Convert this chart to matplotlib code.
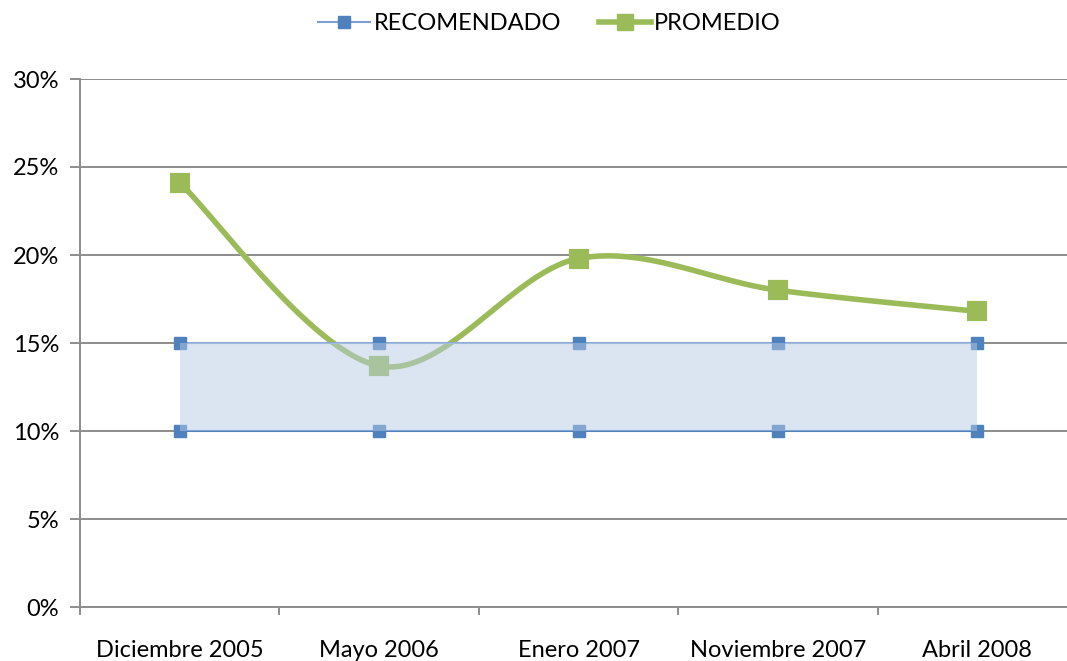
import matplotlib
matplotlib.use("Agg")
import matplotlib.pyplot as plt
import numpy as np
from matplotlib.ticker import FuncFormatter, FixedLocator

categories = ["Diciembre 2005", "Mayo 2006", "Enero 2007", "Noviembre 2007", "Abril 2008"]
recomendado_min = [10, 10, 10, 10, 10]
recomendado_max = [15, 15, 15, 15, 15]
promedio = [24.1, 13.7, 19.8, 18.0, 16.8]

plt.rcParams['font.family'] = ['Lato', 'DejaVu Sans']


def smooth_curve(x, y, n=60):
    # Excel-like smoothed line: cubic bezier with catmull-rom control points
    x = np.asarray(x, float)
    y = np.asarray(y, float)
    px, py = [], []
    for i in range(len(x) - 1):
        x0, y0 = (x[i - 1], y[i - 1]) if i > 0 else (x[i], y[i])
        x3, y3 = (x[i + 2], y[i + 2]) if i + 2 < len(x) else (x[i + 1], y[i + 1])
        c1x = x[i] + (x[i + 1] - x0) / 6
        c1y = y[i] + (y[i + 1] - y0) / 6
        c2x = x[i + 1] - (x3 - x[i]) / 6
        c2y = y[i + 1] - (y3 - y[i]) / 6
        t = np.linspace(0, 1, n)
        bx = (1 - t)**3 * x[i] + 3 * (1 - t)**2 * t * c1x + 3 * (1 - t) * t**2 * c2x + t**3 * x[i + 1]
        by = (1 - t)**3 * y[i] + 3 * (1 - t)**2 * t * c1y + 3 * (1 - t) * t**2 * c2y + t**3 * y[i + 1]
        px.extend(bx)
        py.extend(by)
    return np.array(px), np.array(py)


fig = plt.figure(figsize=(10.67, 6.61), dpi=100)
ax = fig.add_axes([80 / 1067, 54 / 661, 997 / 1067, 528 / 661])

xs = np.arange(len(categories))
green = '#9bbb59'
blue = '#4f81bd'
fs = 17

# grid
for v in range(0, 31, 5):
    ax.axhline(v, color='#8c8c8c', lw=1.4, zorder=1)

# promedio smoothed line
sx, sy = smooth_curve(xs, promedio)
ax.plot(sx, sy, color=green, lw=4, solid_capstyle='round', zorder=3)
ax.plot(xs, promedio, ls='none', marker='s', ms=12, color=green,
        markeredgecolor=green, markeredgewidth=3, zorder=3)

# recomendado lines and markers
ax.plot(xs, recomendado_max, color='#8eaad4', lw=1.5, marker='s', ms=9,
        markerfacecolor=blue, markeredgecolor=blue, zorder=4)
ax.plot(xs, recomendado_min, color='#4f81bd', lw=1.5, marker='s', ms=9,
        markerfacecolor=blue, markeredgecolor=blue, zorder=4)

# shaded recommended band, over the lines
ax.fill_between(xs, recomendado_min, recomendado_max, color='#b8cce4',
                alpha=0.5, lw=0, zorder=5)

ax.set_xlim(-0.5, 4.5)
ax.set_ylim(0, 30)
ax.yaxis.set_major_locator(FixedLocator(range(0, 31, 5)))
ax.yaxis.set_major_formatter(FuncFormatter(lambda v, p: f"{int(v)}%"))
ax.xaxis.set_major_locator(FixedLocator(np.arange(-0.5, 5, 1)))
ax.xaxis.set_major_formatter(FuncFormatter(lambda v, p: ""))
ax.xaxis.set_minor_locator(FixedLocator(xs))
ax.xaxis.set_minor_formatter(FuncFormatter(lambda v, p: categories[int(round(v))]))
ax.tick_params(axis='x', which='major', length=6, width=1.4, color='#8c8c8c', direction='out')
ax.tick_params(axis='x', which='minor', length=0, pad=24, labelsize=fs)
ax.tick_params(axis='y', length=7, width=1.4, color='#8c8c8c', pad=8, labelsize=fs)

for side in ['top', 'right']:
    ax.spines[side].set_visible(False)
for side in ['left', 'bottom']:
    ax.spines[side].set_color('#8c8c8c')
    ax.spines[side].set_linewidth(1.4)

h1, = ax.plot([], [], color='#7da0d0', lw=1.5, marker='s', ms=9,
              markerfacecolor=blue, markeredgecolor=blue)
h2, = ax.plot([], [], color=green, lw=4, marker='s', ms=12,
              markerfacecolor=green, markeredgecolor=green)
fig.legend([h1, h2], ["RECOMENDADO", "PROMEDIO"], loc='center',
           bbox_to_anchor=(0.515, 1 - 24 / 661), ncol=2, frameon=False,
           fontsize=fs, handlelength=2.2, handletextpad=0.15, columnspacing=1.6)

fig.savefig("out.png", dpi=100)
